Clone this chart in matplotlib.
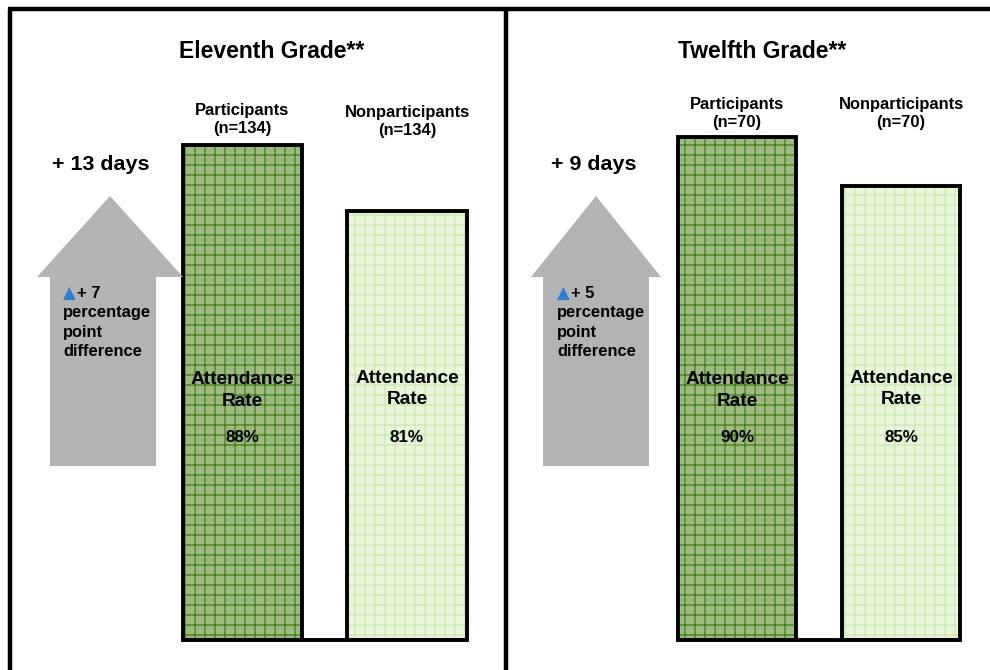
import matplotlib
matplotlib.use("Agg")
import matplotlib.pyplot as plt
from matplotlib.patches import Polygon
from matplotlib.lines import Line2D

plt.rcParams['font.family'] = ['Liberation Sans', 'DejaVu Sans']
plt.rcParams['hatch.linewidth'] = 0.75

# ---- data ----
panels = ["Eleventh Grade**", "Twelfth Grade**"]
groups = ["Participants", "Nonparticipants"]
n_sizes = [[134, 134], [70, 70]]
attendance = [[88, 81], [90, 85]]
diff_points = [7, 5]
diff_days = [13, 9]

W, H = 990, 670
DPI = 120
fig = plt.figure(figsize=(W / DPI, H / DPI), dpi=DPI)

def fx(px):
    return px / W

def fy(py):
    return 1 - py / H

def ftext(x, y, s, **kw):
    fig.text(fx(x), fy(y), s, **kw)

# panel frame lines
for (x0, y0, x1, y1) in [(8, 9, 990, 9), (9.5, 9, 9.5, 670), (505.5, 9, 505.5, 670)]:
    fig.add_artist(Line2D([fx(x0), fx(x1)], [fy(y0), fy(y1)], color="black",
                          lw=2.67, solid_capstyle="butt"))

face_cols = ["#9dbb80", "#e9f6da"]
hatch_cols = ["#437c18", "#cde8b2"]

panel_cfg = [
    dict(cx=272, ax_left=160.25, ax_right=489.25, ylim=(35.5, 92.8), arrow_x=110,
         head=(37, 183), shaft=(50, 156), days_x=52, txt_x=63,
         label_y=[(111, 128), (113, 130)], rate_y=[(380, 402), (378, 400)]),
    dict(cx=762, ax_left=655, ax_right=983, ylim=(38.7, 93.8), arrow_x=596,
         head=(531, 661), shaft=(543, 649), days_x=551, txt_x=557,
         label_y=[(104, 122), (104, 122)], rate_y=[(380, 402), (378, 400)]),
]

ax_top, ax_bot = 100, 640

for p, cfg in enumerate(panel_cfg):
    ax = fig.add_axes([fx(cfg["ax_left"]), fy(ax_bot),
                       fx(cfg["ax_right"]) - fx(cfg["ax_left"]),
                       (ax_bot - ax_top) / H])
    ax.set_xlim(-0.5, 1.5)
    ax.set_ylim(*cfg["ylim"])
    base = cfg["ylim"][0]
    xs = [0, 1]
    width = 0.725
    for i in range(2):
        ax.bar(xs[i], attendance[p][i] - base, bottom=base, width=width,
               color=face_cols[i], edgecolor=hatch_cols[i], hatch="++",
               linewidth=0, zorder=2)
        ax.bar(xs[i], attendance[p][i] - base, bottom=base, width=width,
               facecolor="none", edgecolor="black", linewidth=2.33, zorder=3)
    for s in ["top", "left", "right"]:
        ax.spines[s].set_visible(False)
    ax.spines["bottom"].set_linewidth(2.33)
    ax.spines["bottom"].set_bounds(-width / 2, 1 + width / 2)
    ax.spines["bottom"].set_zorder(4)
    ax.set_xticks([])
    ax.set_yticks([])
    ax.patch.set_alpha(0)

    ftext(cfg["cx"], 52, panels[p], ha="center", va="center",
          fontsize=13.75, fontweight="bold")

    for i in range(2):
        xpix = cfg["ax_left"] + (xs[i] + 0.5) / 2 * (cfg["ax_right"] - cfg["ax_left"])
        ly = cfg["label_y"][i]
        ftext(xpix, ly[0], groups[i], ha="center", va="center",
              fontsize=9.9, fontweight="bold")
        ftext(xpix, ly[1], f"(n={n_sizes[p][i]})", ha="center", va="center",
              fontsize=9.9, fontweight="bold")
        ry = cfg["rate_y"][i]
        ftext(xpix, ry[0], "Attendance", ha="center", va="center",
              fontsize=11.5, fontweight="bold")
        ftext(xpix, ry[1], "Rate", ha="center", va="center",
              fontsize=11.5, fontweight="bold")
        ftext(xpix, 437, f"{attendance[p][i]}%", ha="center", va="center",
              fontsize=10.2, fontweight="bold")

    hx0, hx1 = cfg["head"]
    sx0, sx1 = cfg["shaft"]
    tip = cfg["arrow_x"]
    pts = [(tip, 196), (hx1, 277), (sx1, 277), (sx1, 466), (sx0, 466),
           (sx0, 277), (hx0, 277)]
    fig.add_artist(Polygon([(fx(a), fy(b)) for a, b in pts], closed=True,
                           facecolor="#b3b3b3", edgecolor="none",
                           transform=fig.transFigure))

    ftext(cfg["days_x"], 165, f"+ {diff_days[p]} days", ha="left", va="center",
          fontsize=12.9, fontweight="bold")
    tx = cfg["txt_x"]
    ftext(tx, 294, "\u25B2", ha="left", va="center", fontsize=10,
          color="#2b7fd4", family=["DejaVu Sans"])
    ftext(tx + 14, 294, f"+ {diff_points[p]}", ha="left", va="center",
          fontsize=9.9, fontweight="bold")
    for k, w in enumerate(["percentage", "point", "difference"]):
        ftext(tx, 313 + 19.5 * k, w, ha="left", va="center",
              fontsize=9.9, fontweight="bold")

fig.savefig("out.png", dpi=DPI)
